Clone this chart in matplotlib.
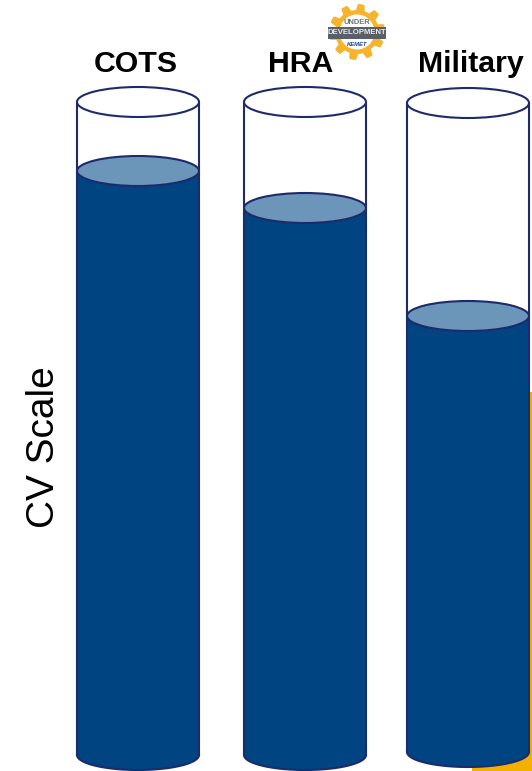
import numpy as np
import matplotlib
matplotlib.use("Agg")
import matplotlib.pyplot as plt
from matplotlib.patches import Ellipse, Rectangle, Polygon

plt.rcParams["font.family"] = ["Liberation Sans", "DejaVu Sans"]

# column data, in figure pixels
names = ["COTS", "HRA", "Military"]
levels = [584, 547, 436]
bases = [755, 755, 752]
tops = [102, 102, 103]
lefts = [77, 244, 407]
label_x = [136, 301, 471]

COL_W = 122
CAP_H = 30
LIQUID = "#004481"
SURFACE = "#6b95b9"
EDGE = "#1d2a6c"
YELLOW = "#f2b000"

fig = plt.figure(figsize=(5.32, 7.71), dpi=100)
ax = fig.add_axes([0, 0, 1, 1])
ax.set_xlim(0, 532)
ax.set_ylim(771, 0)
ax.axis("off")


def draw_column(left, top, base, level):
    cx = left + COL_W / 2
    rx = COL_W / 2
    ry = CAP_H / 2
    surface = base - level
    # liquid body: straight sides closed by the lower half of an ellipse
    t = np.linspace(0, np.pi, 80)
    xs = cx + rx * np.cos(t)
    ys = base + ry * np.sin(t)
    body = np.vstack([[left + COL_W, surface], np.column_stack([xs, ys]), [left, surface]])
    ax.add_patch(Polygon(body, closed=True, fc=LIQUID, ec="none", zorder=2))
    ax.plot(xs, ys, color=EDGE, lw=1.5, zorder=4)
    ax.plot([left, left], [top, base], color=EDGE, lw=1.5, zorder=4)
    ax.plot([left + COL_W, left + COL_W], [top, base], color=EDGE, lw=1.5, zorder=4)
    ax.add_patch(Ellipse((cx, surface), COL_W, CAP_H, fc=SURFACE, ec=EDGE, lw=1.5, zorder=5))
    ax.add_patch(Ellipse((cx, top), COL_W, CAP_H, fc="white", ec=EDGE, lw=1.5, zorder=5))


def draw_badge(cx, cy):
    # gear outline
    angles = np.linspace(0, 2 * np.pi, 720, endpoint=False)
    radius = 25 + 3 * np.clip(2.5 * np.cos(10 * (angles + 0.16)), -1, 1)
    gear = np.column_stack([cx + radius * np.cos(angles), cy + radius * np.sin(angles)])
    ax.add_patch(Polygon(gear, closed=True, fc="#f6b42c", ec="none", zorder=6))
    ax.add_patch(Ellipse((cx, cy), 35, 35, fc="white", ec="none", zorder=7))
    ax.add_patch(Rectangle((cx - 29, cy - 5), 58, 12, fc="#5a6068", ec="none", zorder=8))
    ax.text(cx, cy - 10, "UNDER", fontsize=5.4, fontweight="bold", color="#6f7379",
            ha="center", va="center", zorder=9)
    ax.text(cx, cy + 1, "DEVELOPMENT", fontsize=5.6, fontweight="bold", color="#e8e8e8",
            ha="center", va="center", zorder=9)
    ax.text(cx, cy + 12, "KEMET", fontsize=4.2, fontweight="bold", style="italic", color="#1d4a8c",
            ha="center", va="center", zorder=9)


# yellow block sitting behind the right-hand column
ax.add_patch(Rectangle((472, 392), 60, 379, fc=YELLOW, ec="none", zorder=1))

for left, top, base, level in zip(lefts, tops, bases, levels):
    draw_column(left, top, base, level)

draw_badge(357, 32)

for name, x in zip(names, label_x):
    ax.text(x, 64, name, fontsize=21.8, fontweight="bold", color="black",
            ha="center", va="center", zorder=10)

ax.text(44, 447, "CV Scale", fontsize=28, rotation=90, color="black",
        ha="center", va="center", zorder=10)

fig.savefig("out.png", dpi=100)
